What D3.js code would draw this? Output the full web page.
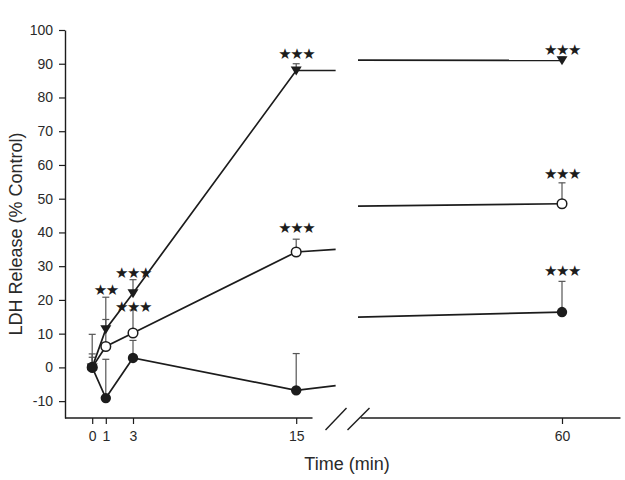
<!DOCTYPE html>
<html><head><meta charset="utf-8">
<script src="https://cdn.jsdelivr.net/npm/d3@7"></script>
<style>body{margin:0;background:#fff}svg{display:block}</style>
</head><body>
<script>
// ---- data ----
const earlyTimes = [0, 1, 3, 15];
const lateTime = 60;
const stubLeftT = 17.9;   // line continues to the break
const stubRightT = 45;    // line resumes after the break
const xTickValues = [0, 1, 3, 15, 60];
const yTickValues = [-10, 0, 10, 20, 30, 40, 50, 60, 70, 80, 90, 100];

const triValues = [0, 11.3, 22, 88];
const triStub = [88, 91.1];
const triLate = 91;
const triErrUpper = [4, 20.8, 26, 90, 92];

const openValues = [0, 6.2, 10.2, 34.2];
const openStub = [35, 47.8];
const openLate = 48.5;
const openErrUpper = [3, 14.2, 17, 38, 54.7];

const filledValues = [0, -9.1, 2.8, -6.8];
const filledStub = [-5.4, 14.9];
const filledLate = 16.4;
const filledErrUpper = [9.8, 2.4, 8, 4.1, 25.5];

const starLabels = [
  {t: 1, v: 22.8, s: "★★"},
  {t: 3, v: 27.9, s: "★★★"},
  {t: 3, v: 17.8, s: "★★★"},
  {t: 15, v: 92.9, s: "★★★"},
  {t: 15, v: 41.2, s: "★★★"},
  {t: 60, v: 94.2, s: "★★★"},
  {t: 60, v: 57.3, s: "★★★"},
  {t: 60, v: 28.5, s: "★★★"}
];

// ---- layout ----
const W = 625, H = 480;
const k = 13.6;
const x = d3.scaleLinear()
  .domain([-2, 18, 45, 64.3])
  .range([65, 65 + 20 * k, 358, 358 + 19.3 * k]);
const y = d3.scaleLinear().domain([-15, 100]).range([418, 30]);

const ink = "#1c1c1c", txt = "#2a2a2a";
const svg = d3.select("body").append("svg").attr("width", W).attr("height", H);

// y axis
const yAxis = svg.append("g").attr("transform", `translate(${x(-2)},0)`)
  .call(d3.axisLeft(y).tickValues(yTickValues).tickFormat(d => String(d))
    .tickSize(6).tickSizeOuter(0).tickPadding(6));
yAxis.select(".domain").attr("stroke", ink).attr("stroke-width", 1.4);
yAxis.selectAll(".tick line").attr("stroke", ink).attr("stroke-width", 1.2);
yAxis.selectAll("text").attr("font-family", "Liberation Sans, Arial, sans-serif")
  .attr("font-size", 14).attr("fill", txt);

// x axis (broken)
const xa = svg.append("g").attr("transform", `translate(0,${y(-15)})`);
xa.call(d3.axisBottom(x).tickValues(xTickValues).tickFormat(d => String(d))
  .tickSize(6).tickSizeOuter(0).tickPadding(7));
xa.select(".domain").remove();
xa.selectAll(".tick line").attr("stroke", ink).attr("stroke-width", 1.2);
xa.selectAll("text").attr("font-family", "Liberation Sans, Arial, sans-serif")
  .attr("font-size", 14).attr("fill", txt);
const axisSegs = [[-2, 16.2], [45.2, 64.3]];
axisSegs.forEach(([a, b]) => {
  xa.append("line").attr("x1", x(a)).attr("x2", x(b)).attr("y1", 0).attr("y2", 0)
    .attr("stroke", ink).attr("stroke-width", 1.4);
});
// break marks
const bx0 = x(16.2);
[[13, 34], [35, 57]].forEach(([a, b]) => {
  xa.append("line").attr("x1", bx0 + a).attr("y1", 12).attr("x2", bx0 + b).attr("y2", -10)
    .attr("stroke", ink).attr("stroke-width", 1.4);
});

// axis titles
svg.append("text").attr("transform", `translate(22,${y(42.5) + 10}) rotate(-90)`)
  .attr("text-anchor", "middle").attr("font-family", "Liberation Sans, Arial, sans-serif")
  .attr("font-size", 18).attr("fill", txt).text("LDH Release (% Control)");
svg.append("text").attr("x", 347).attr("y", 470)
  .attr("text-anchor", "middle").attr("font-family", "Liberation Sans, Arial, sans-serif")
  .attr("font-size", 18).attr("fill", txt).text("Time (min)");

const series = [
  {vals: triValues, stub: triStub, late: triLate, err: triErrUpper, shape: "tri"},
  {vals: openValues, stub: openStub, late: openLate, err: openErrUpper, shape: "open"},
  {vals: filledValues, stub: filledStub, late: filledLate, err: filledErrUpper, shape: "filled"}
];
const line = d3.line().x(d => x(d[0])).y(d => y(d[1]));

// error bars
series.forEach(s => {
  const pts = earlyTimes.map((t, i) => [t, s.vals[i], s.err[i]]).concat([[lateTime, s.late, s.err[4]]]);
  const g = svg.append("g");
  pts.forEach(p => {
    g.append("line").attr("x1", x(p[0])).attr("x2", x(p[0])).attr("y1", y(p[1])).attr("y2", y(p[2]))
      .attr("stroke", "#555").attr("stroke-width", 1.2);
    g.append("line").attr("x1", x(p[0]) - 3.5).attr("x2", x(p[0]) + 3.5).attr("y1", y(p[2])).attr("y2", y(p[2]))
      .attr("stroke", "#555").attr("stroke-width", 1.2);
  });
});

// lines
series.forEach(s => {
  const left = earlyTimes.map((t, i) => [t, s.vals[i]]).concat([[stubLeftT, s.stub[0]]]);
  const right = [[stubRightT, s.stub[1]], [lateTime, s.late]];
  [left, right].forEach(d => svg.append("path").attr("d", line(d)).attr("fill", "none")
    .attr("stroke", ink).attr("stroke-width", 1.7));
});

// markers
const triPath = (cx, cy) => `M${cx - 5.5},${cy - 4}L${cx + 5.5},${cy - 4}L${cx},${cy + 5}Z`;
series.forEach(s => {
  const pts = earlyTimes.map((t, i) => [t, s.vals[i]]).concat([[lateTime, s.late]]);
  pts.forEach(p => {
    const cx = x(p[0]), cy = y(p[1]);
    if (s.shape === "tri") {
      svg.append("path").attr("d", triPath(cx, cy)).attr("fill", ink);
    } else if (s.shape === "open") {
      svg.append("circle").attr("cx", cx).attr("cy", cy).attr("r", 4.8)
        .attr("fill", "#fff").attr("stroke", ink).attr("stroke-width", 1.5);
    } else {
      svg.append("circle").attr("cx", cx).attr("cy", cy).attr("r", 5.2).attr("fill", ink);
    }
  });
});

// significance stars
svg.append("g").selectAll("text").data(starLabels).join("text")
  .attr("x", d => x(d.t)).attr("y", d => y(d.v))
  .attr("text-anchor", "middle").attr("dominant-baseline", "central")
  .attr("font-family", "DejaVu Sans, sans-serif").attr("font-size", 15)
  .attr("letter-spacing", -1.5)
  .attr("fill", ink).text(d => d.s);
</script>
</body></html>
